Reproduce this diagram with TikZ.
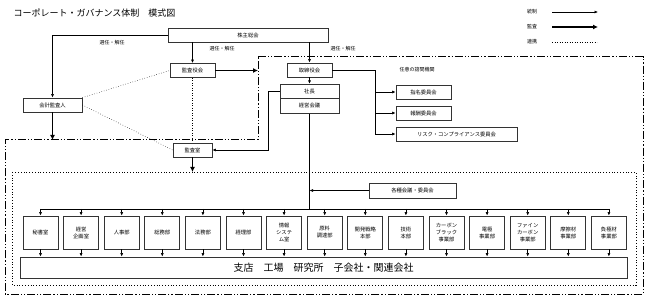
\documentclass[tikz,border=0pt]{standalone}
\usepackage{fontspec}
\setmainfont{Noto Sans CJK JP}
\usetikzlibrary{positioning,arrows.meta}

\begin{document}
\begin{tikzpicture}[x=1pt,y=-1pt,>=Latex,on grid,
  bx/.style={draw=black!80,line width=0.8pt,fill=white,inner sep=0pt,align=center,font=\fontsize{5.3}{7}\selectfont},
  dept/.style={bx,minimum width=35pt,minimum height=33pt},
  lab/.style={font=\fontsize{5}{6}\selectfont},
  ctl/.style={->,line width=0.6pt,>={Latex[length=3.5pt,width=3pt]}},
  aud/.style={->,line width=1.8pt,>={Latex[length=5pt,width=5pt]}},
  rel/.style={dotted,line width=0.5pt},
  zone/.style={line width=1pt,dash pattern=on 8pt off 2pt on 1.2pt off 2pt on 1.2pt off 2pt}]
\useasboundingbox (0,0) rectangle (648,299);
\node[anchor=west,font=\fontsize{9}{10}\selectfont] (title) at (10,13) {コーポレート・ガバナンス体制　模式図};
% legend
\node[lab] (lgA) at (532,12) {統制};
\node[lab] (lgB) at (532,27) {監査};
\node[lab] (lgC) at (532,42) {連携};
\coordinate (lgA1) at (552,12); \coordinate (lgA2) at (598,12);
\coordinate (lgB1) at (552,27); \coordinate (lgB2) at (598,27);
\coordinate (lgC1) at (552,42); \coordinate (lgC2) at (597,42);
\draw[ctl] (lgA1) -- (lgA2);
\draw[aud] (lgB1) -- (lgB2);
\draw[rel] (lgC1) -- (lgC2);
% zones
\draw[zone] (258,57) -- (643,57) -- (643,294) -- (5,294) -- (5,140) -- (258,140) -- cycle;
\draw[rel,line width=0.8pt] (12,172) rectangle (636,285);
% governance
\node[bx,minimum width=160pt,minimum height=14pt] (soukai) at (248,35) {株主総会};
\node[bx,minimum width=45pt,minimum height=14pt] (kansayaku) at (192.5,70.5) {監査役会};
\node[bx,minimum width=45pt,minimum height=14pt] (torishimari) at (309.5,70) {取締役会};
\node[bx,minimum width=59pt,minimum height=14.5pt] (shacho) at (309.5,91.5) {社長};
\node[bx,minimum width=59pt,minimum height=14.5pt,below=14.5pt of shacho] (keiei) {経営会議};
\node[bx,minimum width=59pt,minimum height=14pt] (kaikei) at (52.5,105) {会計監査人};
\node[bx,minimum width=39pt,minimum height=14pt] (kansashitsu) at (192.5,150) {監査室};
\node[bx,minimum width=55pt,minimum height=14pt] (shimei) at (423.5,92) {指名委員会};
\node[bx,minimum width=55pt,minimum height=14pt,below=21pt of shimei] (houshu) {報酬委員会};
\node[bx,minimum width=121pt,minimum height=14pt] (risk) at (456.5,134) {リスク・コンプライアンス委員会};
\node[lab] (nini) at (417,70) {任意の諮問機関};
\node[bx,minimum width=87pt,minimum height=15pt] (kakushu) at (412.5,190.5) {各種会議・委員会};
\node[lab] (senA) at (112,43) {選任・解任};
\node[lab] (senB) at (222,48.5) {選任・解任};
\node[lab] (senC) at (343,48.5) {選任・解任};
\coordinate (zoneL) at (258,70.5);
\coordinate (zoneT) at (52.5,140);
\coordinate (boxT) at (192.5,172);
\coordinate (br) at (375,70);
\draw[ctl] (soukai.west) -| (kaikei.north);
\draw[ctl] (kansayaku.north |- soukai.south) -- (kansayaku.north);
\draw[ctl] (torishimari.north |- soukai.south) -- (torishimari.north);
\draw[ctl] (torishimari) -- (shacho);
\draw[aud] (kansayaku.east) -- (zoneL);
\draw[aud] (kaikei.south) -- (zoneT);
\draw[aud] (kansashitsu.south) -- (boxT);
\draw[rel] (kansayaku.south) -- (kansashitsu.north);
\draw[rel] (kaikei.north east) -- (kansayaku.west);
\draw[rel] (kaikei.east) -- (kansashitsu.west);
\draw[ctl] (shacho.west) -- ++(-11,0) |- (kansashitsu.east);
\draw[ctl] (torishimari.east) -- (br) |- (risk.west);
\draw[ctl] (br |- shimei.west) -- (shimei.west);
\draw[ctl] (br |- houshu.west) -- (houshu.west);
% departments
\node[dept] (d1) at (40.5,232.5) {秘書室};
\node[dept,right=40.6pt of d1] (d2) {経営\\企画室};
\node[dept,right=40.6pt of d2] (d3) {人事部};
\node[dept,right=40.6pt of d3] (d4) {総務部};
\node[dept,right=40.6pt of d4] (d5) {法務部};
\node[dept,right=40.6pt of d5] (d6) {経理部};
\node[dept,right=40.6pt of d6] (d7) {情報\\システ\\ム室};
\node[dept,right=40.6pt of d7] (d8) {原料\\調達部};
\node[dept,right=40.6pt of d8] (d9) {開発戦略\\本部};
\node[dept,right=40.6pt of d9] (d10) {技術\\本部};
\node[dept,right=40.6pt of d10] (d11) {カーボン\\ブラック\\事業部};
\node[dept,right=40.6pt of d11] (d12) {電極\\事業部};
\node[dept,right=40.6pt of d12] (d13) {ファイン\\カーボン\\事業部};
\node[dept,right=40.6pt of d13] (d14) {摩擦材\\事業部};
\node[dept,right=40.6pt of d14] (d15) {負極材\\事業部};
\node[bx,minimum width=607pt,minimum height=21pt,font=\fontsize{10}{12}\selectfont] (shiten) at (323.5,267.5) {支店　工場　研究所　子会社・関連会社};
\coordinate (busL) at (40.5,209);
\coordinate (busR) at (608.9,209);
\draw[line width=0.6pt] (busL) -- (busR);
\draw[line width=0.6pt] (keiei.south) -- (keiei.south |- busL);
\draw[ctl] (kakushu.west) -- (kakushu.west -| keiei.south);
\foreach \d in {d1,d2,d3,d4,d5,d6,d7,d8,d9,d10,d11,d12,d13,d14,d15}{
  \draw[ctl] (\d.north |- busL) -- (\d.north);
  \draw[ctl] (\d.south) -- (\d.south |- shiten.north);
}
\end{tikzpicture}
\end{document}
